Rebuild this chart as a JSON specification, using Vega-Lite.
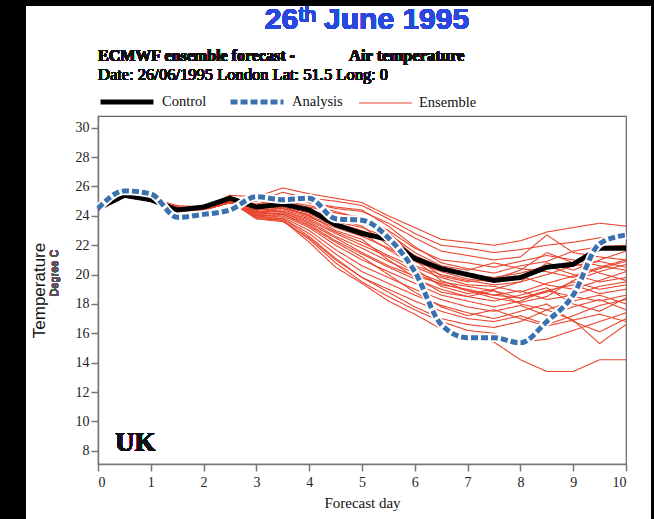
{
"$schema":"https://vega.github.io/schema/vega-lite/v6.json",
"width":528,"height":348,
"autosize":"none",
"padding":{"left":98,"top":116,"right":28,"bottom":55},
"background":"white",
"data":{"values":[
{"type":"Control","m":"c","day":0,"t":24.5},{"type":"Control","m":"c","day":0.5,"t":25.4},{"type":"Control","m":"c","day":1,"t":25.1},{"type":"Control","m":"c","day":1.5,"t":24.4},{"type":"Control","m":"c","day":2,"t":24.6},{"type":"Control","m":"c","day":2.5,"t":25.2},{"type":"Control","m":"c","day":3,"t":24.6},{"type":"Control","m":"c","day":3.5,"t":24.8},{"type":"Control","m":"c","day":4,"t":24.4},{"type":"Control","m":"c","day":4.5,"t":23.4},{"type":"Control","m":"c","day":5,"t":22.8},{"type":"Control","m":"c","day":5.5,"t":22.4},{"type":"Control","m":"c","day":6,"t":21.1},{"type":"Control","m":"c","day":6.5,"t":20.4},{"type":"Control","m":"c","day":7,"t":20.0},{"type":"Control","m":"c","day":7.5,"t":19.6},{"type":"Control","m":"c","day":8,"t":19.8},{"type":"Control","m":"c","day":8.5,"t":20.5},{"type":"Control","m":"c","day":9,"t":20.7},{"type":"Control","m":"c","day":9.5,"t":21.8},{"type":"Control","m":"c","day":10,"t":21.8},
{"type":"Analysis","m":"a","day":0,"t":24.5},{"type":"Analysis","m":"a","day":0.5,"t":25.7},{"type":"Analysis","m":"a","day":1,"t":25.5},{"type":"Analysis","m":"a","day":1.5,"t":23.9},{"type":"Analysis","m":"a","day":2,"t":24.1},{"type":"Analysis","m":"a","day":2.5,"t":24.4},{"type":"Analysis","m":"a","day":3,"t":25.3},{"type":"Analysis","m":"a","day":3.5,"t":25.1},{"type":"Analysis","m":"a","day":4,"t":25.2},{"type":"Analysis","m":"a","day":4.5,"t":23.8},{"type":"Analysis","m":"a","day":5,"t":23.7},{"type":"Analysis","m":"a","day":5.5,"t":22.5},{"type":"Analysis","m":"a","day":6,"t":20.2},{"type":"Analysis","m":"a","day":6.5,"t":16.6},{"type":"Analysis","m":"a","day":7,"t":15.7},{"type":"Analysis","m":"a","day":7.5,"t":15.7},{"type":"Analysis","m":"a","day":8,"t":15.35},{"type":"Analysis","m":"a","day":8.5,"t":16.8},{"type":"Analysis","m":"a","day":9,"t":18.6},{"type":"Analysis","m":"a","day":9.5,"t":22.1},{"type":"Analysis","m":"a","day":10,"t":22.7},
{"type":"Ensemble","m":"e1","day":0,"t":24.5},{"type":"Ensemble","m":"e1","day":0.5,"t":25.3},{"type":"Ensemble","m":"e1","day":1,"t":25.2},{"type":"Ensemble","m":"e1","day":1.5,"t":24.7},{"type":"Ensemble","m":"e1","day":2,"t":24.6},{"type":"Ensemble","m":"e1","day":2.5,"t":25.4},{"type":"Ensemble","m":"e1","day":3,"t":25.3},{"type":"Ensemble","m":"e1","day":3.5,"t":25.9},{"type":"Ensemble","m":"e1","day":4,"t":25.5},{"type":"Ensemble","m":"e1","day":4.5,"t":25.2},{"type":"Ensemble","m":"e1","day":5,"t":24.9},{"type":"Ensemble","m":"e1","day":5.5,"t":24.0},{"type":"Ensemble","m":"e1","day":6,"t":23.2},{"type":"Ensemble","m":"e1","day":6.5,"t":22.4},{"type":"Ensemble","m":"e1","day":7,"t":22.2},{"type":"Ensemble","m":"e1","day":7.5,"t":22.0},{"type":"Ensemble","m":"e1","day":8,"t":22.3},{"type":"Ensemble","m":"e1","day":8.5,"t":22.9},{"type":"Ensemble","m":"e1","day":9,"t":23.2},{"type":"Ensemble","m":"e1","day":9.5,"t":23.5},{"type":"Ensemble","m":"e1","day":10,"t":23.3},
{"type":"Ensemble","m":"e2","day":0,"t":24.5},{"type":"Ensemble","m":"e2","day":0.5,"t":25.4},{"type":"Ensemble","m":"e2","day":1,"t":25.0},{"type":"Ensemble","m":"e2","day":1.5,"t":24.6},{"type":"Ensemble","m":"e2","day":2,"t":24.4},{"type":"Ensemble","m":"e2","day":2.5,"t":25.1},{"type":"Ensemble","m":"e2","day":3,"t":25.0},{"type":"Ensemble","m":"e2","day":3.5,"t":25.6},{"type":"Ensemble","m":"e2","day":4,"t":25.2},{"type":"Ensemble","m":"e2","day":4.5,"t":25.0},{"type":"Ensemble","m":"e2","day":5,"t":24.7},{"type":"Ensemble","m":"e2","day":5.5,"t":23.8},{"type":"Ensemble","m":"e2","day":6,"t":22.8},{"type":"Ensemble","m":"e2","day":6.5,"t":22.0},{"type":"Ensemble","m":"e2","day":7,"t":21.8},{"type":"Ensemble","m":"e2","day":7.5,"t":21.5},{"type":"Ensemble","m":"e2","day":8,"t":21.7},{"type":"Ensemble","m":"e2","day":8.5,"t":22.0},{"type":"Ensemble","m":"e2","day":9,"t":22.2},{"type":"Ensemble","m":"e2","day":9.5,"t":22.5},{"type":"Ensemble","m":"e2","day":10,"t":22.6},
{"type":"Ensemble","m":"e3","day":0,"t":24.5},{"type":"Ensemble","m":"e3","day":0.5,"t":25.3},{"type":"Ensemble","m":"e3","day":1,"t":25.1},{"type":"Ensemble","m":"e3","day":1.5,"t":24.4},{"type":"Ensemble","m":"e3","day":2,"t":24.5},{"type":"Ensemble","m":"e3","day":2.5,"t":25.2},{"type":"Ensemble","m":"e3","day":3,"t":24.8},{"type":"Ensemble","m":"e3","day":3.5,"t":25.3},{"type":"Ensemble","m":"e3","day":4,"t":24.9},{"type":"Ensemble","m":"e3","day":4.5,"t":24.5},{"type":"Ensemble","m":"e3","day":5,"t":24.3},{"type":"Ensemble","m":"e3","day":5.5,"t":23.5},{"type":"Ensemble","m":"e3","day":6,"t":22.5},{"type":"Ensemble","m":"e3","day":6.5,"t":21.6},{"type":"Ensemble","m":"e3","day":7,"t":21.3},{"type":"Ensemble","m":"e3","day":7.5,"t":21.0},{"type":"Ensemble","m":"e3","day":8,"t":21.2},{"type":"Ensemble","m":"e3","day":8.5,"t":22.7},{"type":"Ensemble","m":"e3","day":9,"t":21.5},{"type":"Ensemble","m":"e3","day":9.5,"t":21.2},{"type":"Ensemble","m":"e3","day":10,"t":21.0},
{"type":"Ensemble","m":"e4","day":0,"t":24.5},{"type":"Ensemble","m":"e4","day":0.5,"t":25.4},{"type":"Ensemble","m":"e4","day":1,"t":25.1},{"type":"Ensemble","m":"e4","day":1.5,"t":24.5},{"type":"Ensemble","m":"e4","day":2,"t":24.6},{"type":"Ensemble","m":"e4","day":2.5,"t":25.0},{"type":"Ensemble","m":"e4","day":3,"t":24.6},{"type":"Ensemble","m":"e4","day":3.5,"t":24.9},{"type":"Ensemble","m":"e4","day":4,"t":24.6},{"type":"Ensemble","m":"e4","day":4.5,"t":24.2},{"type":"Ensemble","m":"e4","day":5,"t":23.9},{"type":"Ensemble","m":"e4","day":5.5,"t":23.0},{"type":"Ensemble","m":"e4","day":6,"t":21.8},{"type":"Ensemble","m":"e4","day":6.5,"t":21.0},{"type":"Ensemble","m":"e4","day":7,"t":20.8},{"type":"Ensemble","m":"e4","day":7.5,"t":20.5},{"type":"Ensemble","m":"e4","day":8,"t":20.9},{"type":"Ensemble","m":"e4","day":8.5,"t":21.3},{"type":"Ensemble","m":"e4","day":9,"t":21.0},{"type":"Ensemble","m":"e4","day":9.5,"t":20.6},{"type":"Ensemble","m":"e4","day":10,"t":20.3},
{"type":"Ensemble","m":"e5","day":0,"t":24.5},{"type":"Ensemble","m":"e5","day":0.5,"t":25.3},{"type":"Ensemble","m":"e5","day":1,"t":25.0},{"type":"Ensemble","m":"e5","day":1.5,"t":24.3},{"type":"Ensemble","m":"e5","day":2,"t":24.4},{"type":"Ensemble","m":"e5","day":2.5,"t":24.9},{"type":"Ensemble","m":"e5","day":3,"t":24.5},{"type":"Ensemble","m":"e5","day":3.5,"t":24.7},{"type":"Ensemble","m":"e5","day":4,"t":24.4},{"type":"Ensemble","m":"e5","day":4.5,"t":23.9},{"type":"Ensemble","m":"e5","day":5,"t":23.5},{"type":"Ensemble","m":"e5","day":5.5,"t":22.8},{"type":"Ensemble","m":"e5","day":6,"t":21.5},{"type":"Ensemble","m":"e5","day":6.5,"t":20.6},{"type":"Ensemble","m":"e5","day":7,"t":20.3},{"type":"Ensemble","m":"e5","day":7.5,"t":20.8},{"type":"Ensemble","m":"e5","day":8,"t":20.4},{"type":"Ensemble","m":"e5","day":8.5,"t":20.2},{"type":"Ensemble","m":"e5","day":9,"t":19.8},{"type":"Ensemble","m":"e5","day":9.5,"t":20.4},{"type":"Ensemble","m":"e5","day":10,"t":20.9},
{"type":"Ensemble","m":"e6","day":0,"t":24.5},{"type":"Ensemble","m":"e6","day":0.5,"t":25.4},{"type":"Ensemble","m":"e6","day":1,"t":25.2},{"type":"Ensemble","m":"e6","day":1.5,"t":24.6},{"type":"Ensemble","m":"e6","day":2,"t":24.5},{"type":"Ensemble","m":"e6","day":2.5,"t":25.1},{"type":"Ensemble","m":"e6","day":3,"t":24.4},{"type":"Ensemble","m":"e6","day":3.5,"t":24.5},{"type":"Ensemble","m":"e6","day":4,"t":24.1},{"type":"Ensemble","m":"e6","day":4.5,"t":23.5},{"type":"Ensemble","m":"e6","day":5,"t":23.0},{"type":"Ensemble","m":"e6","day":5.5,"t":22.3},{"type":"Ensemble","m":"e6","day":6,"t":21.3},{"type":"Ensemble","m":"e6","day":6.5,"t":20.5},{"type":"Ensemble","m":"e6","day":7,"t":20.0},{"type":"Ensemble","m":"e6","day":7.5,"t":19.8},{"type":"Ensemble","m":"e6","day":8,"t":20.1},{"type":"Ensemble","m":"e6","day":8.5,"t":20.6},{"type":"Ensemble","m":"e6","day":9,"t":20.0},{"type":"Ensemble","m":"e6","day":9.5,"t":19.5},{"type":"Ensemble","m":"e6","day":10,"t":19.8},
{"type":"Ensemble","m":"e7","day":0,"t":24.5},{"type":"Ensemble","m":"e7","day":0.5,"t":25.3},{"type":"Ensemble","m":"e7","day":1,"t":25.1},{"type":"Ensemble","m":"e7","day":1.5,"t":24.5},{"type":"Ensemble","m":"e7","day":2,"t":24.5},{"type":"Ensemble","m":"e7","day":2.5,"t":25.0},{"type":"Ensemble","m":"e7","day":3,"t":24.3},{"type":"Ensemble","m":"e7","day":3.5,"t":24.4},{"type":"Ensemble","m":"e7","day":4,"t":23.9},{"type":"Ensemble","m":"e7","day":4.5,"t":23.2},{"type":"Ensemble","m":"e7","day":5,"t":22.6},{"type":"Ensemble","m":"e7","day":5.5,"t":21.8},{"type":"Ensemble","m":"e7","day":6,"t":20.9},{"type":"Ensemble","m":"e7","day":6.5,"t":20.2},{"type":"Ensemble","m":"e7","day":7,"t":19.7},{"type":"Ensemble","m":"e7","day":7.5,"t":19.5},{"type":"Ensemble","m":"e7","day":8,"t":19.9},{"type":"Ensemble","m":"e7","day":8.5,"t":19.3},{"type":"Ensemble","m":"e7","day":9,"t":19.0},{"type":"Ensemble","m":"e7","day":9.5,"t":19.6},{"type":"Ensemble","m":"e7","day":10,"t":20.2},
{"type":"Ensemble","m":"e8","day":0,"t":24.5},{"type":"Ensemble","m":"e8","day":0.5,"t":25.4},{"type":"Ensemble","m":"e8","day":1,"t":25.0},{"type":"Ensemble","m":"e8","day":1.5,"t":24.4},{"type":"Ensemble","m":"e8","day":2,"t":24.4},{"type":"Ensemble","m":"e8","day":2.5,"t":24.9},{"type":"Ensemble","m":"e8","day":3,"t":24.2},{"type":"Ensemble","m":"e8","day":3.5,"t":24.3},{"type":"Ensemble","m":"e8","day":4,"t":23.8},{"type":"Ensemble","m":"e8","day":4.5,"t":22.9},{"type":"Ensemble","m":"e8","day":5,"t":22.2},{"type":"Ensemble","m":"e8","day":5.5,"t":21.3},{"type":"Ensemble","m":"e8","day":6,"t":20.5},{"type":"Ensemble","m":"e8","day":6.5,"t":19.8},{"type":"Ensemble","m":"e8","day":7,"t":19.3},{"type":"Ensemble","m":"e8","day":7.5,"t":19.2},{"type":"Ensemble","m":"e8","day":8,"t":18.8},{"type":"Ensemble","m":"e8","day":8.5,"t":19.4},{"type":"Ensemble","m":"e8","day":9,"t":19.9},{"type":"Ensemble","m":"e8","day":9.5,"t":20.5},{"type":"Ensemble","m":"e8","day":10,"t":21.0},
{"type":"Ensemble","m":"e9","day":0,"t":24.5},{"type":"Ensemble","m":"e9","day":0.5,"t":25.3},{"type":"Ensemble","m":"e9","day":1,"t":25.1},{"type":"Ensemble","m":"e9","day":1.5,"t":24.5},{"type":"Ensemble","m":"e9","day":2,"t":24.5},{"type":"Ensemble","m":"e9","day":2.5,"t":25.0},{"type":"Ensemble","m":"e9","day":3,"t":24.1},{"type":"Ensemble","m":"e9","day":3.5,"t":24.2},{"type":"Ensemble","m":"e9","day":4,"t":23.6},{"type":"Ensemble","m":"e9","day":4.5,"t":22.6},{"type":"Ensemble","m":"e9","day":5,"t":21.8},{"type":"Ensemble","m":"e9","day":5.5,"t":20.9},{"type":"Ensemble","m":"e9","day":6,"t":20.1},{"type":"Ensemble","m":"e9","day":6.5,"t":19.3},{"type":"Ensemble","m":"e9","day":7,"t":19.0},{"type":"Ensemble","m":"e9","day":7.5,"t":18.6},{"type":"Ensemble","m":"e9","day":8,"t":18.9},{"type":"Ensemble","m":"e9","day":8.5,"t":18.3},{"type":"Ensemble","m":"e9","day":9,"t":18.6},{"type":"Ensemble","m":"e9","day":9.5,"t":19.2},{"type":"Ensemble","m":"e9","day":10,"t":19.5},
{"type":"Ensemble","m":"e10","day":0,"t":24.5},{"type":"Ensemble","m":"e10","day":0.5,"t":25.4},{"type":"Ensemble","m":"e10","day":1,"t":25.1},{"type":"Ensemble","m":"e10","day":1.5,"t":24.6},{"type":"Ensemble","m":"e10","day":2,"t":24.5},{"type":"Ensemble","m":"e10","day":2.5,"t":25.1},{"type":"Ensemble","m":"e10","day":3,"t":24.2},{"type":"Ensemble","m":"e10","day":3.5,"t":24.1},{"type":"Ensemble","m":"e10","day":4,"t":23.4},{"type":"Ensemble","m":"e10","day":4.5,"t":22.3},{"type":"Ensemble","m":"e10","day":5,"t":21.4},{"type":"Ensemble","m":"e10","day":5.5,"t":20.5},{"type":"Ensemble","m":"e10","day":6,"t":19.7},{"type":"Ensemble","m":"e10","day":6.5,"t":19.0},{"type":"Ensemble","m":"e10","day":7,"t":18.5},{"type":"Ensemble","m":"e10","day":7.5,"t":18.2},{"type":"Ensemble","m":"e10","day":8,"t":18.6},{"type":"Ensemble","m":"e10","day":8.5,"t":19.1},{"type":"Ensemble","m":"e10","day":9,"t":18.0},{"type":"Ensemble","m":"e10","day":9.5,"t":17.5},{"type":"Ensemble","m":"e10","day":10,"t":18.4},
{"type":"Ensemble","m":"e11","day":0,"t":24.5},{"type":"Ensemble","m":"e11","day":0.5,"t":25.3},{"type":"Ensemble","m":"e11","day":1,"t":25.0},{"type":"Ensemble","m":"e11","day":1.5,"t":24.4},{"type":"Ensemble","m":"e11","day":2,"t":24.4},{"type":"Ensemble","m":"e11","day":2.5,"t":24.9},{"type":"Ensemble","m":"e11","day":3,"t":24.0},{"type":"Ensemble","m":"e11","day":3.5,"t":24.0},{"type":"Ensemble","m":"e11","day":4,"t":23.2},{"type":"Ensemble","m":"e11","day":4.5,"t":22.0},{"type":"Ensemble","m":"e11","day":5,"t":21.0},{"type":"Ensemble","m":"e11","day":5.5,"t":20.2},{"type":"Ensemble","m":"e11","day":6,"t":19.4},{"type":"Ensemble","m":"e11","day":6.5,"t":18.6},{"type":"Ensemble","m":"e11","day":7,"t":18.2},{"type":"Ensemble","m":"e11","day":7.5,"t":17.8},{"type":"Ensemble","m":"e11","day":8,"t":18.2},{"type":"Ensemble","m":"e11","day":8.5,"t":18.9},{"type":"Ensemble","m":"e11","day":9,"t":19.3},{"type":"Ensemble","m":"e11","day":9.5,"t":18.7},{"type":"Ensemble","m":"e11","day":10,"t":19.0},
{"type":"Ensemble","m":"e12","day":0,"t":24.5},{"type":"Ensemble","m":"e12","day":0.5,"t":25.4},{"type":"Ensemble","m":"e12","day":1,"t":25.1},{"type":"Ensemble","m":"e12","day":1.5,"t":24.5},{"type":"Ensemble","m":"e12","day":2,"t":24.5},{"type":"Ensemble","m":"e12","day":2.5,"t":25.0},{"type":"Ensemble","m":"e12","day":3,"t":24.1},{"type":"Ensemble","m":"e12","day":3.5,"t":23.9},{"type":"Ensemble","m":"e12","day":4,"t":23.0},{"type":"Ensemble","m":"e12","day":4.5,"t":21.7},{"type":"Ensemble","m":"e12","day":5,"t":20.6},{"type":"Ensemble","m":"e12","day":5.5,"t":19.8},{"type":"Ensemble","m":"e12","day":6,"t":19.0},{"type":"Ensemble","m":"e12","day":6.5,"t":18.3},{"type":"Ensemble","m":"e12","day":7,"t":17.8},{"type":"Ensemble","m":"e12","day":7.5,"t":17.5},{"type":"Ensemble","m":"e12","day":8,"t":17.9},{"type":"Ensemble","m":"e12","day":8.5,"t":17.2},{"type":"Ensemble","m":"e12","day":9,"t":17.8},{"type":"Ensemble","m":"e12","day":9.5,"t":18.3},{"type":"Ensemble","m":"e12","day":10,"t":17.6},
{"type":"Ensemble","m":"e13","day":0,"t":24.5},{"type":"Ensemble","m":"e13","day":0.5,"t":25.3},{"type":"Ensemble","m":"e13","day":1,"t":25.1},{"type":"Ensemble","m":"e13","day":1.5,"t":24.5},{"type":"Ensemble","m":"e13","day":2,"t":24.5},{"type":"Ensemble","m":"e13","day":2.5,"t":25.0},{"type":"Ensemble","m":"e13","day":3,"t":24.0},{"type":"Ensemble","m":"e13","day":3.5,"t":23.8},{"type":"Ensemble","m":"e13","day":4,"t":22.8},{"type":"Ensemble","m":"e13","day":4.5,"t":21.4},{"type":"Ensemble","m":"e13","day":5,"t":20.2},{"type":"Ensemble","m":"e13","day":5.5,"t":19.4},{"type":"Ensemble","m":"e13","day":6,"t":18.6},{"type":"Ensemble","m":"e13","day":6.5,"t":17.9},{"type":"Ensemble","m":"e13","day":7,"t":17.4},{"type":"Ensemble","m":"e13","day":7.5,"t":17.0},{"type":"Ensemble","m":"e13","day":8,"t":17.5},{"type":"Ensemble","m":"e13","day":8.5,"t":18.0},{"type":"Ensemble","m":"e13","day":9,"t":16.8},{"type":"Ensemble","m":"e13","day":9.5,"t":16.1},{"type":"Ensemble","m":"e13","day":10,"t":17.0},
{"type":"Ensemble","m":"e14","day":0,"t":24.5},{"type":"Ensemble","m":"e14","day":0.5,"t":25.4},{"type":"Ensemble","m":"e14","day":1,"t":25.0},{"type":"Ensemble","m":"e14","day":1.5,"t":24.4},{"type":"Ensemble","m":"e14","day":2,"t":24.4},{"type":"Ensemble","m":"e14","day":2.5,"t":24.9},{"type":"Ensemble","m":"e14","day":3,"t":23.9},{"type":"Ensemble","m":"e14","day":3.5,"t":23.8},{"type":"Ensemble","m":"e14","day":4,"t":22.6},{"type":"Ensemble","m":"e14","day":4.5,"t":21.1},{"type":"Ensemble","m":"e14","day":5,"t":19.8},{"type":"Ensemble","m":"e14","day":5.5,"t":19.0},{"type":"Ensemble","m":"e14","day":6,"t":18.2},{"type":"Ensemble","m":"e14","day":6.5,"t":17.5},{"type":"Ensemble","m":"e14","day":7,"t":17.0},{"type":"Ensemble","m":"e14","day":7.5,"t":16.8},{"type":"Ensemble","m":"e14","day":8,"t":17.2},{"type":"Ensemble","m":"e14","day":8.5,"t":16.6},{"type":"Ensemble","m":"e14","day":9,"t":17.2},{"type":"Ensemble","m":"e14","day":9.5,"t":17.9},{"type":"Ensemble","m":"e14","day":10,"t":18.3},
{"type":"Ensemble","m":"e15","day":0,"t":24.5},{"type":"Ensemble","m":"e15","day":0.5,"t":25.3},{"type":"Ensemble","m":"e15","day":1,"t":25.1},{"type":"Ensemble","m":"e15","day":1.5,"t":24.5},{"type":"Ensemble","m":"e15","day":2,"t":24.5},{"type":"Ensemble","m":"e15","day":2.5,"t":25.0},{"type":"Ensemble","m":"e15","day":3,"t":23.9},{"type":"Ensemble","m":"e15","day":3.5,"t":23.7},{"type":"Ensemble","m":"e15","day":4,"t":22.4},{"type":"Ensemble","m":"e15","day":4.5,"t":20.8},{"type":"Ensemble","m":"e15","day":5,"t":19.5},{"type":"Ensemble","m":"e15","day":5.5,"t":18.5},{"type":"Ensemble","m":"e15","day":6,"t":17.6},{"type":"Ensemble","m":"e15","day":6.5,"t":16.8},{"type":"Ensemble","m":"e15","day":7,"t":16.2},{"type":"Ensemble","m":"e15","day":7.5,"t":16.0},{"type":"Ensemble","m":"e15","day":8,"t":15.4},{"type":"Ensemble","m":"e15","day":8.5,"t":15.6},{"type":"Ensemble","m":"e15","day":9,"t":16.2},{"type":"Ensemble","m":"e15","day":9.5,"t":16.8},{"type":"Ensemble","m":"e15","day":10,"t":17.4},
{"type":"Ensemble","m":"e16","day":0,"t":24.5},{"type":"Ensemble","m":"e16","day":0.5,"t":25.4},{"type":"Ensemble","m":"e16","day":1,"t":25.1},{"type":"Ensemble","m":"e16","day":1.5,"t":24.5},{"type":"Ensemble","m":"e16","day":2,"t":24.5},{"type":"Ensemble","m":"e16","day":2.5,"t":25.0},{"type":"Ensemble","m":"e16","day":3,"t":23.8},{"type":"Ensemble","m":"e16","day":3.5,"t":23.7},{"type":"Ensemble","m":"e16","day":4,"t":22.2},{"type":"Ensemble","m":"e16","day":4.5,"t":20.5},{"type":"Ensemble","m":"e16","day":5,"t":19.4},{"type":"Ensemble","m":"e16","day":5.5,"t":18.2},{"type":"Ensemble","m":"e16","day":6,"t":17.3},{"type":"Ensemble","m":"e16","day":6.5,"t":16.3},{"type":"Ensemble","m":"e16","day":7,"t":15.8},{"type":"Ensemble","m":"e16","day":7.5,"t":15.4},{"type":"Ensemble","m":"e16","day":8,"t":14.2},{"type":"Ensemble","m":"e16","day":8.5,"t":13.4},{"type":"Ensemble","m":"e16","day":9,"t":13.4},{"type":"Ensemble","m":"e16","day":9.5,"t":14.2},{"type":"Ensemble","m":"e16","day":10,"t":14.2},
{"type":"Ensemble","m":"e17","day":0,"t":24.5},{"type":"Ensemble","m":"e17","day":0.5,"t":25.3},{"type":"Ensemble","m":"e17","day":1,"t":25.0},{"type":"Ensemble","m":"e17","day":1.5,"t":24.4},{"type":"Ensemble","m":"e17","day":2,"t":24.4},{"type":"Ensemble","m":"e17","day":2.5,"t":24.9},{"type":"Ensemble","m":"e17","day":3,"t":24.2},{"type":"Ensemble","m":"e17","day":3.5,"t":24.6},{"type":"Ensemble","m":"e17","day":4,"t":24.2},{"type":"Ensemble","m":"e17","day":4.5,"t":23.6},{"type":"Ensemble","m":"e17","day":5,"t":23.2},{"type":"Ensemble","m":"e17","day":5.5,"t":22.5},{"type":"Ensemble","m":"e17","day":6,"t":21.0},{"type":"Ensemble","m":"e17","day":6.5,"t":19.6},{"type":"Ensemble","m":"e17","day":7,"t":18.9},{"type":"Ensemble","m":"e17","day":7.5,"t":18.6},{"type":"Ensemble","m":"e17","day":8,"t":18.4},{"type":"Ensemble","m":"e17","day":8.5,"t":18.8},{"type":"Ensemble","m":"e17","day":9,"t":19.5},{"type":"Ensemble","m":"e17","day":9.5,"t":19.0},{"type":"Ensemble","m":"e17","day":10,"t":19.3},
{"type":"Ensemble","m":"e18","day":0,"t":24.5},{"type":"Ensemble","m":"e18","day":0.5,"t":25.4},{"type":"Ensemble","m":"e18","day":1,"t":25.1},{"type":"Ensemble","m":"e18","day":1.5,"t":24.5},{"type":"Ensemble","m":"e18","day":2,"t":24.5},{"type":"Ensemble","m":"e18","day":2.5,"t":25.0},{"type":"Ensemble","m":"e18","day":3,"t":24.4},{"type":"Ensemble","m":"e18","day":3.5,"t":24.8},{"type":"Ensemble","m":"e18","day":4,"t":24.4},{"type":"Ensemble","m":"e18","day":4.5,"t":23.8},{"type":"Ensemble","m":"e18","day":5,"t":23.3},{"type":"Ensemble","m":"e18","day":5.5,"t":22.0},{"type":"Ensemble","m":"e18","day":6,"t":20.4},{"type":"Ensemble","m":"e18","day":6.5,"t":19.2},{"type":"Ensemble","m":"e18","day":7,"t":18.7},{"type":"Ensemble","m":"e18","day":7.5,"t":19.0},{"type":"Ensemble","m":"e18","day":8,"t":19.5},{"type":"Ensemble","m":"e18","day":8.5,"t":20.0},{"type":"Ensemble","m":"e18","day":9,"t":20.6},{"type":"Ensemble","m":"e18","day":9.5,"t":20.9},{"type":"Ensemble","m":"e18","day":10,"t":20.5},
{"type":"Ensemble","m":"e19","day":0,"t":24.5},{"type":"Ensemble","m":"e19","day":0.5,"t":25.3},{"type":"Ensemble","m":"e19","day":1,"t":25.1},{"type":"Ensemble","m":"e19","day":1.5,"t":24.5},{"type":"Ensemble","m":"e19","day":2,"t":24.5},{"type":"Ensemble","m":"e19","day":2.5,"t":25.0},{"type":"Ensemble","m":"e19","day":3,"t":24.6},{"type":"Ensemble","m":"e19","day":3.5,"t":25.0},{"type":"Ensemble","m":"e19","day":4,"t":24.7},{"type":"Ensemble","m":"e19","day":4.5,"t":24.3},{"type":"Ensemble","m":"e19","day":5,"t":23.8},{"type":"Ensemble","m":"e19","day":5.5,"t":22.9},{"type":"Ensemble","m":"e19","day":6,"t":21.2},{"type":"Ensemble","m":"e19","day":6.5,"t":19.9},{"type":"Ensemble","m":"e19","day":7,"t":19.5},{"type":"Ensemble","m":"e19","day":7.5,"t":19.7},{"type":"Ensemble","m":"e19","day":8,"t":20.3},{"type":"Ensemble","m":"e19","day":8.5,"t":21.5},{"type":"Ensemble","m":"e19","day":9,"t":20.8},{"type":"Ensemble","m":"e19","day":9.5,"t":20.1},{"type":"Ensemble","m":"e19","day":10,"t":19.6},
{"type":"Ensemble","m":"e20","day":0,"t":24.5},{"type":"Ensemble","m":"e20","day":0.5,"t":25.4},{"type":"Ensemble","m":"e20","day":1,"t":25.0},{"type":"Ensemble","m":"e20","day":1.5,"t":24.4},{"type":"Ensemble","m":"e20","day":2,"t":24.4},{"type":"Ensemble","m":"e20","day":2.5,"t":24.9},{"type":"Ensemble","m":"e20","day":3,"t":24.5},{"type":"Ensemble","m":"e20","day":3.5,"t":24.6},{"type":"Ensemble","m":"e20","day":4,"t":24.0},{"type":"Ensemble","m":"e20","day":4.5,"t":23.0},{"type":"Ensemble","m":"e20","day":5,"t":22.4},{"type":"Ensemble","m":"e20","day":5.5,"t":21.0},{"type":"Ensemble","m":"e20","day":6,"t":19.8},{"type":"Ensemble","m":"e20","day":6.5,"t":18.8},{"type":"Ensemble","m":"e20","day":7,"t":18.5},{"type":"Ensemble","m":"e20","day":7.5,"t":18.9},{"type":"Ensemble","m":"e20","day":8,"t":18.0},{"type":"Ensemble","m":"e20","day":8.5,"t":17.6},{"type":"Ensemble","m":"e20","day":9,"t":16.9},{"type":"Ensemble","m":"e20","day":9.5,"t":15.3},{"type":"Ensemble","m":"e20","day":10,"t":16.6},
{"type":"Ensemble","m":"e21","day":0,"t":24.5},{"type":"Ensemble","m":"e21","day":0.5,"t":25.3},{"type":"Ensemble","m":"e21","day":1,"t":25.1},{"type":"Ensemble","m":"e21","day":1.5,"t":24.5},{"type":"Ensemble","m":"e21","day":2,"t":24.5},{"type":"Ensemble","m":"e21","day":2.5,"t":25.0},{"type":"Ensemble","m":"e21","day":3,"t":24.3},{"type":"Ensemble","m":"e21","day":3.5,"t":24.3},{"type":"Ensemble","m":"e21","day":4,"t":23.7},{"type":"Ensemble","m":"e21","day":4.5,"t":22.8},{"type":"Ensemble","m":"e21","day":5,"t":22.0},{"type":"Ensemble","m":"e21","day":5.5,"t":21.2},{"type":"Ensemble","m":"e21","day":6,"t":20.2},{"type":"Ensemble","m":"e21","day":6.5,"t":19.5},{"type":"Ensemble","m":"e21","day":7,"t":19.2},{"type":"Ensemble","m":"e21","day":7.5,"t":18.9},{"type":"Ensemble","m":"e21","day":8,"t":18.4},{"type":"Ensemble","m":"e21","day":8.5,"t":18.9},{"type":"Ensemble","m":"e21","day":9,"t":18.5},{"type":"Ensemble","m":"e21","day":9.5,"t":18.2},{"type":"Ensemble","m":"e21","day":10,"t":18.6},
{"type":"Ensemble","m":"e22","day":0,"t":24.5},{"type":"Ensemble","m":"e22","day":0.5,"t":25.4},{"type":"Ensemble","m":"e22","day":1,"t":25.1},{"type":"Ensemble","m":"e22","day":1.5,"t":24.5},{"type":"Ensemble","m":"e22","day":2,"t":24.5},{"type":"Ensemble","m":"e22","day":2.5,"t":25.0},{"type":"Ensemble","m":"e22","day":3,"t":24.4},{"type":"Ensemble","m":"e22","day":3.5,"t":24.5},{"type":"Ensemble","m":"e22","day":4,"t":24.0},{"type":"Ensemble","m":"e22","day":4.5,"t":23.3},{"type":"Ensemble","m":"e22","day":5,"t":22.8},{"type":"Ensemble","m":"e22","day":5.5,"t":21.7},{"type":"Ensemble","m":"e22","day":6,"t":20.6},{"type":"Ensemble","m":"e22","day":6.5,"t":20.0},{"type":"Ensemble","m":"e22","day":7,"t":19.6},{"type":"Ensemble","m":"e22","day":7.5,"t":19.3},{"type":"Ensemble","m":"e22","day":8,"t":19.5},{"type":"Ensemble","m":"e22","day":8.5,"t":20.8},{"type":"Ensemble","m":"e22","day":9,"t":20.3},{"type":"Ensemble","m":"e22","day":9.5,"t":21.0},{"type":"Ensemble","m":"e22","day":10,"t":21.6},
{"type":"Ensemble","m":"e23","day":0,"t":24.5},{"type":"Ensemble","m":"e23","day":0.5,"t":25.3},{"type":"Ensemble","m":"e23","day":1,"t":25.0},{"type":"Ensemble","m":"e23","day":1.5,"t":24.4},{"type":"Ensemble","m":"e23","day":2,"t":24.4},{"type":"Ensemble","m":"e23","day":2.5,"t":24.9},{"type":"Ensemble","m":"e23","day":3,"t":24.7},{"type":"Ensemble","m":"e23","day":3.5,"t":25.2},{"type":"Ensemble","m":"e23","day":4,"t":24.9},{"type":"Ensemble","m":"e23","day":4.5,"t":24.6},{"type":"Ensemble","m":"e23","day":5,"t":24.4},{"type":"Ensemble","m":"e23","day":5.5,"t":23.3},{"type":"Ensemble","m":"e23","day":6,"t":21.9},{"type":"Ensemble","m":"e23","day":6.5,"t":20.8},{"type":"Ensemble","m":"e23","day":7,"t":20.4},{"type":"Ensemble","m":"e23","day":7.5,"t":20.1},{"type":"Ensemble","m":"e23","day":8,"t":20.6},{"type":"Ensemble","m":"e23","day":8.5,"t":20.9},{"type":"Ensemble","m":"e23","day":9,"t":21.6},{"type":"Ensemble","m":"e23","day":9.5,"t":21.9},{"type":"Ensemble","m":"e23","day":10,"t":22.0},
{"type":"Ensemble","m":"e24","day":0,"t":24.5},{"type":"Ensemble","m":"e24","day":0.5,"t":25.4},{"type":"Ensemble","m":"e24","day":1,"t":25.1},{"type":"Ensemble","m":"e24","day":1.5,"t":24.5},{"type":"Ensemble","m":"e24","day":2,"t":24.5},{"type":"Ensemble","m":"e24","day":2.5,"t":25.0},{"type":"Ensemble","m":"e24","day":3,"t":24.0},{"type":"Ensemble","m":"e24","day":3.5,"t":24.1},{"type":"Ensemble","m":"e24","day":4,"t":23.3},{"type":"Ensemble","m":"e24","day":4.5,"t":22.2},{"type":"Ensemble","m":"e24","day":5,"t":21.2},{"type":"Ensemble","m":"e24","day":5.5,"t":20.0},{"type":"Ensemble","m":"e24","day":6,"t":18.8},{"type":"Ensemble","m":"e24","day":6.5,"t":17.8},{"type":"Ensemble","m":"e24","day":7,"t":17.2},{"type":"Ensemble","m":"e24","day":7.5,"t":17.6},{"type":"Ensemble","m":"e24","day":8,"t":17.0},{"type":"Ensemble","m":"e24","day":8.5,"t":16.5},{"type":"Ensemble","m":"e24","day":9,"t":16.9},{"type":"Ensemble","m":"e24","day":9.5,"t":17.3},{"type":"Ensemble","m":"e24","day":10,"t":16.8},
{"type":"Ensemble","m":"e25","day":0,"t":24.5},{"type":"Ensemble","m":"e25","day":0.5,"t":25.3},{"type":"Ensemble","m":"e25","day":1,"t":25.1},{"type":"Ensemble","m":"e25","day":1.5,"t":24.5},{"type":"Ensemble","m":"e25","day":2,"t":24.5},{"type":"Ensemble","m":"e25","day":2.5,"t":25.0},{"type":"Ensemble","m":"e25","day":3,"t":23.8},{"type":"Ensemble","m":"e25","day":3.5,"t":23.6},{"type":"Ensemble","m":"e25","day":4,"t":22.5},{"type":"Ensemble","m":"e25","day":4.5,"t":21.0},{"type":"Ensemble","m":"e25","day":5,"t":19.8},{"type":"Ensemble","m":"e25","day":5.5,"t":18.8},{"type":"Ensemble","m":"e25","day":6,"t":17.8},{"type":"Ensemble","m":"e25","day":6.5,"t":17.0},{"type":"Ensemble","m":"e25","day":7,"t":16.6},{"type":"Ensemble","m":"e25","day":7.5,"t":16.4},{"type":"Ensemble","m":"e25","day":8,"t":16.8},{"type":"Ensemble","m":"e25","day":8.5,"t":17.6},{"type":"Ensemble","m":"e25","day":9,"t":18.2},{"type":"Ensemble","m":"e25","day":9.5,"t":18.6},{"type":"Ensemble","m":"e25","day":10,"t":18.0},
{"type":"Ensemble","m":"e26","day":0,"t":24.5},{"type":"Ensemble","m":"e26","day":0.5,"t":25.4},{"type":"Ensemble","m":"e26","day":1,"t":25.0},{"type":"Ensemble","m":"e26","day":1.5,"t":24.4},{"type":"Ensemble","m":"e26","day":2,"t":24.4},{"type":"Ensemble","m":"e26","day":2.5,"t":24.9},{"type":"Ensemble","m":"e26","day":3,"t":24.1},{"type":"Ensemble","m":"e26","day":3.5,"t":24.2},{"type":"Ensemble","m":"e26","day":4,"t":23.5},{"type":"Ensemble","m":"e26","day":4.5,"t":22.5},{"type":"Ensemble","m":"e26","day":5,"t":21.5},{"type":"Ensemble","m":"e26","day":5.5,"t":20.6},{"type":"Ensemble","m":"e26","day":6,"t":19.9},{"type":"Ensemble","m":"e26","day":6.5,"t":19.4},{"type":"Ensemble","m":"e26","day":7,"t":18.9},{"type":"Ensemble","m":"e26","day":7.5,"t":18.4},{"type":"Ensemble","m":"e26","day":8,"t":18.1},{"type":"Ensemble","m":"e26","day":8.5,"t":18.5},{"type":"Ensemble","m":"e26","day":9,"t":19.6},{"type":"Ensemble","m":"e26","day":9.5,"t":20.2},{"type":"Ensemble","m":"e26","day":10,"t":20.7}
]},
"encoding":{
  "x":{"field":"day","type":"quantitative","scale":{"domain":[0,10],"nice":false,"zero":false},
       "axis":{"title":"Forecast day","values":[0,1,2,3,4,5,6,7,8,9,10],"format":"d"}},
  "y":{"field":"t","type":"quantitative","scale":{"domain":[7.1,30.8],"nice":false,"zero":false},
       "axis":{"title":"Temperature","values":[8,10,12,14,16,18,20,22,24,26,28,30],"format":"d"}}
},
"layer":[
{"encoding":{
  "color":{"field":"type","type":"nominal","scale":{"domain":["Control","Analysis","Ensemble"],"range":["#000000","#3a72b0","#e8472f"]},"legend":{"title":null}},
  "strokeWidth":{"field":"type","type":"nominal","scale":{"type":"ordinal","domain":["Control","Analysis","Ensemble"],"range":[5,5,1.1]},"legend":{"title":null}},
  "strokeDash":{"field":"type","type":"nominal","scale":{"type":"ordinal","domain":["Control","Analysis","Ensemble"],"range":[[1,0],[7,3],[1,0]]},"legend":{"title":null}}
 },
 "layer":[
  {"transform":[{"filter":"datum.type==='Ensemble'"}],
   "mark":{"type":"line","interpolate":"linear"},
   "encoding":{"detail":{"field":"m"}}},
  {"transform":[{"filter":"datum.type==='Control'"}],
   "mark":{"type":"line","interpolate":"linear"}},
  {"transform":[{"filter":"datum.type==='Analysis'"}],
   "mark":{"type":"line","interpolate":"monotone"},
   "encoding":{"color":{"value":"white"},"strokeWidth":{"value":8.5},"strokeDash":{"value":[1,0]}}},
  {"transform":[{"filter":"datum.type==='Analysis'"}],
   "mark":{"type":"line","interpolate":"monotone","strokeCap":"butt"}}
 ]},
{"mark":{"type":"text","text":"26ᵗʰ June 1995","font":"Liberation Sans","fontSize":30,"fontWeight":"bold","align":"center","baseline":"alphabetic","color":"#2b48dc"},
 "encoding":{"x":{"datum":5.095},"y":{"datum":36.72}}},
{"mark":{"type":"text","text":"ECMWF ensemble forecast -","font":"Liberation Serif","fontSize":16,"fontWeight":"bold","align":"left","baseline":"alphabetic","color":"#111"},
 "encoding":{"x":{"datum":0},"y":{"datum":34.55}}},
{"mark":{"type":"text","text":"Air temperature","font":"Liberation Serif","fontSize":16.5,"fontWeight":"bold","align":"left","baseline":"alphabetic","color":"#111"},
 "encoding":{"x":{"datum":4.754},"y":{"datum":34.55}}},
{"mark":{"type":"text","text":"Date: 26/06/1995 London Lat: 51.5 Long: 0","font":"Liberation Serif","fontSize":16.5,"align":"left","baseline":"alphabetic","color":"#111"},
 "encoding":{"x":{"datum":0},"y":{"datum":33.25}}},
{"mark":{"type":"text","text":"UK","font":"Liberation Serif","fontSize":27,"fontWeight":"bold","align":"left","baseline":"alphabetic","color":"#111"},
 "encoding":{"x":{"datum":0.322},"y":{"datum":8.0}}},
{"mark":{"type":"text","text":"Degree C","font":"Liberation Sans","fontSize":11,"angle":270,"align":"center","baseline":"middle","color":"#555"},
 "encoding":{"x":{"datum":-0.82},"y":{"datum":20.1}}},
{"mark":{"type":"rect","color":"black"},"encoding":{"x":{"datum":-2},"x2":{"datum":-1.364},"y":{"datum":2},"y2":{"datum":40}}},
{"mark":{"type":"rect","color":"black"},"encoding":{"x":{"datum":-2},"x2":{"datum":11},"y":{"datum":38.29},"y2":{"datum":40}}},
{"mark":{"type":"rect","color":"black"},"encoding":{"x":{"datum":10.492},"x2":{"datum":11},"y":{"datum":2},"y2":{"datum":40}}}
],
"config":{
 "view":{"stroke":"#666","strokeWidth":1.2},
 "axis":{"grid":false,"domainColor":"#777","domainWidth":1.5,"tickColor":"#777","tickWidth":1.5,"tickSize":7,
   "labelFont":"Liberation Serif","labelFontSize":14,"labelColor":"#222",
   "titleFontWeight":"normal","titleColor":"#111"},
 "axisX":{"labelPadding":4,"titleFont":"Liberation Serif","titleFontSize":15,"titlePadding":6},
 "axisY":{"labelPadding":2,"titleFont":"Liberation Sans","titleFontSize":17,"titlePadding":27},
 "legend":{"orient":"none","legendX":0,"legendY":-43,"direction":"horizontal","symbolType":"stroke","symbolSize":2800,
   "labelFont":"Liberation Serif","labelFontSize":14.5,"labelColor":"#111","labelOffset":6,"columnPadding":13}
}
}
